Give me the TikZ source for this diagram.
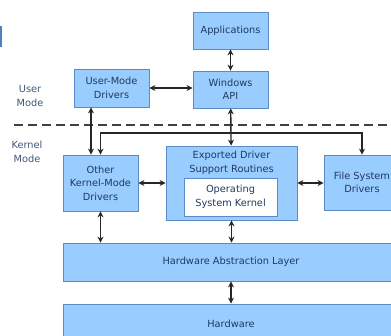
\documentclass[tikz,border=0pt]{standalone}
\usepackage{fontspec}
\setmainfont{DejaVu Sans}
\usetikzlibrary{arrows.meta}
\definecolor{boxfill}{HTML}{99CCFF}
\definecolor{boxline}{HTML}{5B8BC7}
\definecolor{boxtext}{HTML}{1F3A60}
\definecolor{tabblue}{HTML}{4F81BD}
\begin{document}
\begin{tikzpicture}[x=1pt,y=-1pt,
    box/.style={rectangle, draw=boxline, fill=boxfill, line width=0.8pt, text=boxtext, align=center,
                font=\fontsize{9.8}{13.5}\selectfont, minimum width=#1, inner sep=0pt},
    box/.default=75pt,
    biarrow/.style={{Stealth[length=6pt,width=6pt]}-{Stealth[length=6pt,width=6pt]}, line width=1.4pt, draw=black!85},
    modetext/.style={text=boxtext!85, align=center, font=\fontsize{9.8}{13.5}\selectfont}]
        \clip (0,0) rectangle (391,335);
        \fill[tabblue] (0,26) rectangle (2,47);
        % user mode
        \node[box, minimum height=37pt] (apps) at (230.5,30.5) {Applications};
        \node[box, minimum height=37pt] (winapi) at (230.5,89.5) {Windows\\API};
        \node[box, minimum height=38pt] (umd) at (111.5,88) {User-Mode\\Drivers};
        \node[modetext] (usermode) at (30,96) {User\\Mode};
        % boundary
        \coordinate (dashl) at (14,125);
        \coordinate (dashr) at (391,125);
        \draw[dash pattern=on 9pt off 5pt, line width=1.5pt, black!75] (dashl) -- (dashr);
        \node[modetext] (kernelmode) at (27,152) {Kernel\\Mode};
        % kernel mode
        \node[box, minimum height=56pt] (okmd) at (100.5,183) {Other\\Kernel-Mode\\Drivers};
        \node[box=131pt, minimum height=74pt, label={[text=boxtext, align=center, font=\fontsize{9.8}{13.5}\selectfont, anchor=north, yshift=-2pt]north:Exported Driver\\Support Routines}] (exp) at (231.5,183) {};
        \node[box=93pt, fill=white, minimum height=38pt] (kernel) at (230.5,197) {Operating\\System Kernel};
        \node[box=76pt, minimum height=55pt] (fsd) at (362,182.5) {File System\\Drivers};
        \node[box=336pt, minimum height=38pt] (hal) at (231,262) {Hardware Abstraction Layer};
        \node[box=336pt, minimum height=40pt] (hw) at (231,324) {Hardware};
        \coordinate (bus) at (231,133);
        % connectors
        \draw[biarrow] (apps) -- (winapi);
        \draw[biarrow] (umd.east) -- (umd.east -| winapi.west);
        \draw[biarrow] ([xshift=-9.5pt]umd.south -| okmd.north) -- ([xshift=-9.5pt]okmd.north);
        \draw[biarrow] (winapi) -- (exp);
        \draw[biarrow] (okmd.north) |- (bus) -| (fsd.north);
        \draw[biarrow] (okmd.east) -- (exp.west |- okmd.east);
        \draw[biarrow] (exp.east) -- (fsd.west |- exp.east);
        \draw[biarrow] (okmd.south) -- (okmd.south |- hal.north);
        \draw[biarrow] (exp.south) -- (exp.south |- hal.north);
        \draw[biarrow] (hal) -- (hw);
\end{tikzpicture}
\end{document}
